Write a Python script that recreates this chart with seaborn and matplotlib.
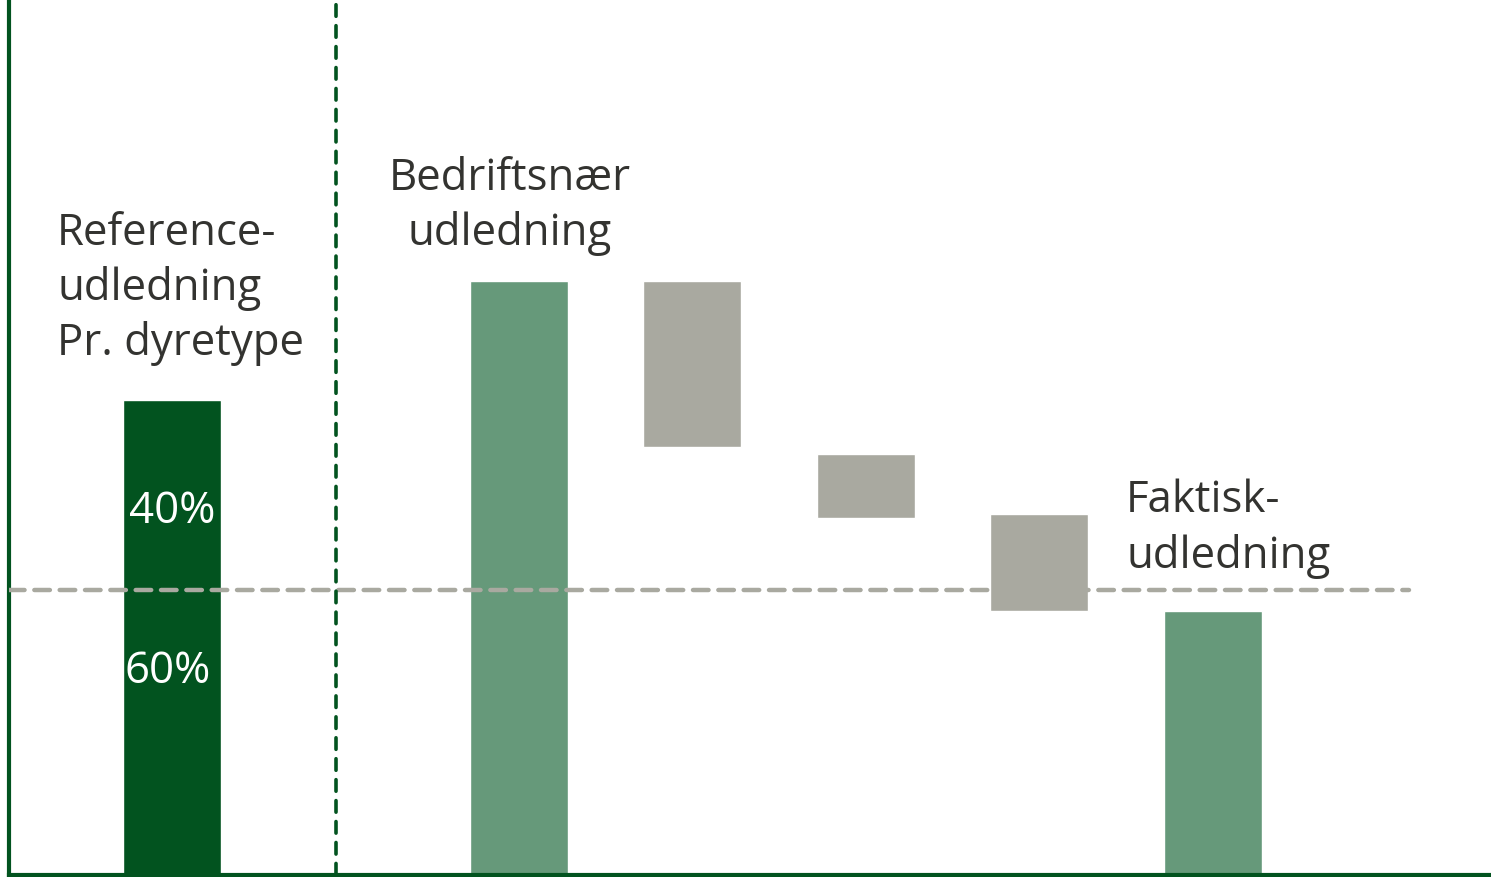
"""Vandfaldsdiagram: fra referenceudledning til faktisk udledning."""

import matplotlib
matplotlib.use("Agg")
import matplotlib.pyplot as plt
import pandas as pd
import seaborn as sns

# data (vaerdier aflaest fra billedet, reference = 100)
trin = ["Reference", "", "Bedriftsnær", "Tiltag 1", "Tiltag 2", "Tiltag 3", "Faktisk"]
reference_vaerdi = [100]
andel_labels = ["40%", "60%"]
andel_graense = 60
total_trin = ["Bedriftsnær", "Faktisk"]
total_vaerdi = [125, 55.5]
tiltag_trin = ["Tiltag 1", "Tiltag 2", "Tiltag 3"]
tiltag_top = [125, 88.6, 76]
tiltag_bund = [90, 75.2, 55.6]

MORK = "#02531f"
LYS = "#66997a"
GRA = "#a9a9a0"
TEKST = "#333330"

sns.set_theme(style="white")
plt.rcParams["font.family"] = ["Open Sans", "DejaVu Sans"]

fig = plt.figure(figsize=(14.91, 8.78), dpi=100)
ax = fig.add_axes([9 / 1491, 2 / 878, 1482 / 1491, 876 / 878])

ref_df = pd.DataFrame({"trin": ["Reference"], "vaerdi": reference_vaerdi})
tot_df = pd.DataFrame({"trin": total_trin, "vaerdi": total_vaerdi})
til_df = pd.DataFrame({"trin": tiltag_trin, "top": tiltag_top, "bund": tiltag_bund})
til_df["hojde"] = til_df["top"] - til_df["bund"]

bw = 0.565
sns.barplot(data=ref_df, x="trin", y="vaerdi", order=trin, color=MORK,
            saturation=1, width=bw, ax=ax, zorder=2)
sns.barplot(data=tot_df, x="trin", y="vaerdi", order=trin, color=LYS,
            saturation=1, width=bw, ax=ax, zorder=2)
sns.barplot(data=til_df, x="trin", y="hojde", order=trin, color=GRA,
            saturation=1, width=bw, bottom=til_df["bund"].to_numpy(), ax=ax,
            zorder=2)

ax.set_xlim(-0.937, 7.605)
ax.set_ylim(0, 184.4)

# skillelinjer
ax.axhline(andel_graense, xmin=0, xmax=0.945, color=GRA, lw=3.2,
           ls=(0, (3.5, 2.2)), dash_capstyle="round", zorder=3)
ax.axvline(0.948, color=MORK, lw=2.6, ls=(0, (3.2, 2.6)),
           dash_capstyle="round", zorder=3)

# andele i referencesoejlen
ax.text(0.006, 76.7, andel_labels[0], color="white", fontsize=31.5,
        ha="center", va="center", zorder=4)
ax.text(-0.02, 43.1, andel_labels[1], color="white", fontsize=31.5,
        ha="center", va="center", zorder=4)

# etiketter
ax.text(-0.660, 139.9, "Reference-\nudledning\nPr. dyretype", color=TEKST,
        fontsize=31.5, ha="left", va="top", linespacing=1.3)
ax.text(1.951, 151.5, "Bedriftsnær\nudledning", color=TEKST, fontsize=31.5,
        ha="center", va="top", linespacing=1.3)
ax.text(5.502, 83.6, "Faktisk-\nudledning", color=TEKST, fontsize=31.5,
        ha="left", va="top", linespacing=1.3)

ax.set_xlabel("")
ax.set_ylabel("")
ax.set_xticks([])
ax.set_yticks([])
sns.despine(ax=ax, top=True, right=True)
for side in ["left", "bottom"]:
    ax.spines[side].set_color(MORK)
    ax.spines[side].set_linewidth(3)
ax.patch.set_alpha(0)

fig.savefig("out.png", dpi=100)
